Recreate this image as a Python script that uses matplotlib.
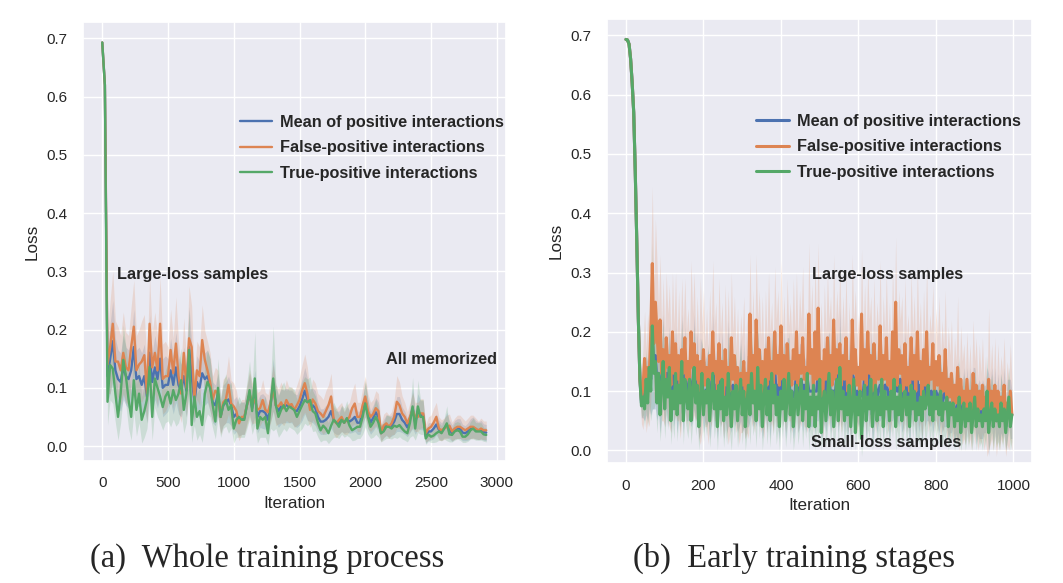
import numpy as np
import matplotlib
matplotlib.use('Agg')
import matplotlib.pyplot as plt
import seaborn as sns

# ---- panel (a): whole training process, one point every 20 iterations
iter_a = list(range(0, 2921, 20))

fp_a = [.693, .62, .14, .17, .21, .145, .145, .13, .16, .135,
        .13, .17, .205, .13, .14, .145, .156, .09, .21, .135,
        .16, .13, .21, .115, .12, .12, .165, .125, .176, .12,
        .09, .16, .10, .185, .17, .08, .13, .12, .182, .148,
        .13, .11, .08, .095, .09, .05, .075, .08, .105, .073,
        .068, .06, .039, .05, .05, .07, .09, .073, .08, .062,
        .065, .079, .062, .058, .075, .1, .07, .068, .075, .065,
        .079, .07, .072, .062, .07, .079, .095, .108, .09, .062,
        .08, .073, .06, .056, .05, .06, .07, .085, .045, .039,
        .045, .05, .04, .045, .05, .065, .073, .05, .05, .07,
        .085, .06, .05, .055, .065, .06, .022, .035, .039, .033,
        .039, .05, .076, .07, .056, .05, .039, .05, .062, .05,
        .05, .056, .056, .022, .03, .033, .04, .05, .03, .027,
        .03, .033, .035, .025, .03, .033, .033, .03, .027, .03,
        .033, .033, .03, .027, .03, .027, .027]

tp_a = [.693, .62, .076, .139, .133, .09, .05, .09, .148, .12,
        .08, .05, .113, .062, .09, .045, .06, .08, .136, .05,
        .116, .1, .085, .067, .085, .093, .073, .096, .079, .09,
        .113, .062, .09, .165, .036, .085, .05, .06, .036, .09,
        .11, .1, .07, .042, .1, .05, .07, .079, .062, .07,
        .03, .045, .05, .045, .045, .07, .096, .06, .116, .03,
        .05, .045, .05, .022, .07, .116, .07, .05, .062, .07,
        .06, .068, .065, .062, .05, .06, .07, .079, .075, .079,
        .06, .056, .04, .027, .035, .03, .022, .035, .045, .04,
        .033, .045, .04, .048, .035, .027, .03, .033, .033, .05,
        .073, .05, .033, .04, .05, .04, .022, .025, .033, .033,
        .03, .035, .033, .036, .03, .025, .022, .04, .068, .03,
        .068, .05, .05, .013, .02, .016, .018, .022, .025, .022,
        .03, .039, .02, .019, .025, .027, .025, .016, .016, .02,
        .027, .03, .025, .025, .025, .02, .019]

mean_a = [.693, .62, .12, .15, .18, .13, .115, .11, .135, .12,
          .115, .13, .17, .115, .12, .105, .12, .085, .16, .11,
          .135, .115, .15, .1, .105, .105, .13, .105, .135, .105,
          .095, .12, .095, .17, .12, .075, .11, .1, .125, .115,
          .12, .105, .075, .07, .09, .05, .07, .075, .08, .07,
          .05, .055, .045, .048, .048, .07, .09, .065, .09, .05,
          .06, .06, .057, .045, .072, .105, .07, .06, .068, .068,
          .07, .068, .068, .062, .06, .068, .08, .095, .08, .07,
          .07, .065, .05, .042, .042, .045, .05, .06, .045, .04,
          .04, .047, .04, .046, .042, .045, .05, .04, .04, .06,
          .08, .055, .04, .048, .058, .05, .022, .03, .036, .033,
          .035, .042, .055, .055, .045, .04, .032, .045, .065, .04,
          .06, .053, .053, .017, .025, .025, .03, .037, .028, .025,
          .03, .036, .028, .022, .028, .03, .03, .023, .022, .025,
          .03, .032, .028, .026, .028, .024, .023]

fp_a_sd = [0, .01, .05, .08, .09, .07, .06, .06, .07, .06,
           .06, .07, .08, .06, .06, .07, .07, .05, .08, .06,
           .07, .06, .08, .06, .06, .05, .07, .06, .08, .06,
           .05, .06, .05, .09, .07, .04, .05, .05, .06, .05,
           .05, .05, .04, .04, .04, .03, .04, .04, .05, .04,
           .04, .035, .03, .03, .03, .035, .04, .035, .04, .03,
           .03, .035, .03, .03, .035, .04, .035, .03, .035, .03,
           .035, .03, .03, .03, .035, .04, .045, .05, .045, .03,
           .035, .035, .03, .03, .03, .035, .035, .04, .025, .025,
           .025, .025, .02, .025, .025, .03, .035, .025, .025, .03,
           .035, .03, .025, .025, .03, .03, .015, .02, .02, .02,
           .02, .03, .045, .04, .03, .025, .02, .025, .03, .025,
           .025, .025, .025, .015, .02, .02, .025, .025, .02, .018,
           .018, .02, .02, .016, .018, .02, .02, .018, .016, .018,
           .02, .02, .018, .016, .018, .016, .016]

tp_a_sd = [0, .01, .04, .06, .06, .05, .04, .05, .06, .05,
           .05, .04, .055, .045, .05, .04, .045, .05, .06, .04,
           .05, .05, .045, .04, .045, .05, .04, .05, .045, .05,
           .055, .04, .05, .07, .03, .05, .04, .04, .03, .05,
           .055, .05, .04, .03, .05, .035, .04, .045, .04, .04,
           .025, .03, .035, .03, .03, .04, .05, .04, .08, .025,
           .035, .03, .035, .02, .04, .09, .04, .035, .04, .04,
           .035, .035, .035, .035, .03, .035, .04, .04, .04, .04,
           .035, .03, .025, .02, .025, .02, .018, .025, .03, .025,
           .02, .025, .025, .03, .02, .018, .02, .02, .02, .03,
           .04, .03, .02, .025, .03, .025, .015, .015, .02, .02,
           .018, .02, .02, .02, .018, .015, .015, .025, .05, .02,
           .045, .03, .03, .01, .012, .01, .012, .015, .015, .013,
           .018, .03, .013, .012, .015, .015, .015, .01, .01, .012,
           .015, .018, .015, .015, .015, .012, .012]

mean_a_sd = [0, .01, .045, .06, .07, .055, .05, .05, .055, .05,
             .05, .055, .065, .05, .05, .055, .055, .045, .065, .05,
             .055, .05, .065, .05, .05, .045, .055, .05, .06, .05,
             .045, .05, .045, .07, .055, .035, .045, .045, .05, .045,
             .045, .045, .035, .035, .035, .028, .035, .035, .04, .035,
             .03, .03, .028, .028, .028, .03, .035, .03, .04, .028,
             .028, .03, .028, .025, .03, .045, .03, .028, .03, .028,
             .03, .028, .028, .028, .028, .032, .036, .04, .036, .028,
             .03, .03, .025, .022, .022, .025, .025, .03, .022, .02,
             .02, .022, .018, .022, .02, .022, .025, .02, .02, .025,
             .03, .025, .02, .022, .025, .025, .013, .016, .018, .018,
             .018, .022, .03, .03, .022, .02, .016, .022, .035, .02,
             .03, .025, .025, .012, .015, .015, .017, .018, .016, .015,
             .016, .022, .016, .014, .016, .017, .017, .014, .013, .015,
             .017, .018, .016, .015, .016, .014, .014]

# ---- panel (b): early training stages, one point every 4 iterations
iter_b = list(range(0, 997, 4))

fp_b = [.693, .692, .685, .66, .62, .57, .47, .35, .22, .12,
        .085, .105, .155, .1, .14, .12, .2, .315, .18, .25,
        .2, .15, .22, .13, .17, .12, .19, .14, .16, .11,
        .2, .13, .18, .12, .16, .1, .17, .13, .19, .12,
        .15, .11, .2, .14, .18, .12, .16, .1, .15, .12,
        .17, .11, .14, .09, .16, .12, .2, .13, .15, .1,
        .18, .12, .15, .09, .17, .11, .14, .1, .19, .12,
        .16, .1, .14, .08, .13, .11, .15, .09, .13, .1,
        .23, .12, .16, .1, .22, .13, .17, .11, .15, .09,
        .17, .11, .19, .12, .15, .1, .2, .13, .16, .11,
        .21, .12, .16, .1, .18, .13, .15, .11, .17, .12,
        .2, .11, .16, .13, .19, .12, .14, .1, .23, .13,
        .17, .1, .2, .12, .24, .11, .15, .09, .17, .12,
        .19, .13, .16, .11, .22, .12, .17, .13, .18, .11,
        .16, .12, .19, .1, .15, .09, .22, .13, .17, .11,
        .14, .1, .23, .12, .17, .11, .2, .13, .16, .1,
        .18, .11, .15, .12, .21, .1, .16, .12, .19, .11,
        .15, .1, .2, .12, .25, .11, .17, .13, .16, .1,
        .18, .11, .14, .1, .19, .12, .16, .1, .2, .12,
        .15, .09, .17, .11, .2, .1, .14, .12, .18, .1,
        .15, .11, .16, .09, .13, .1, .17, .08, .12, .09,
        .13, .07, .11, .08, .14, .06, .12, .08, .1, .07,
        .12, .07, .1, .06, .13, .08, .11, .06, .1, .07,
        .11, .06, .09, .05, .12, .07, .1, .06, .11, .05,
        .1, .06, .09, .07, .11, .05, .08, .06, .1, .06]

tp_b = [.693, .692, .685, .66, .62, .57, .47, .35, .22, .12,
        .075, .09, .07, .12, .08, .14, .1, .21, .13, .15,
        .08, .13, .06, .11, .15, .07, .12, .09, .14, .05,
        .1, .07, .13, .06, .11, .08, .15, .05, .12, .09,
        .07, .12, .05, .1, .14, .08, .11, .04, .09, .13,
        .06, .1, .08, .12, .05, .09, .13, .07, .1, .04,
        .11, .07, .12, .05, .09, .06, .13, .08, .04, .1,
        .07, .11, .05, .09, .12, .06, .1, .04, .08, .11,
        .06, .13, .08, .1, .05, .14, .07, .11, .04, .09,
        .12, .06, .1, .05, .13, .08, .11, .06, .09, .04,
        .1, .07, .12, .05, .09, .13, .06, .1, .04, .08,
        .11, .06, .09, .12, .05, .1, .07, .13, .04, .09,
        .06, .11, .04, .09, .07, .12, .03, .08, .1, .05,
        .09, .13, .06, .1, .04, .08, .12, .05, .14, .07,
        .1, .05, .09, .06, .11, .04, .08, .12, .03, .09,
        .06, .1, .02, .08, .11, .05, .09, .07, .12, .04,
        .08, .11, .05, .09, .06, .12, .04, .1, .07, .09,
        .05, .1, .07, .12, .04, .09, .06, .11, .05, .08,
        .1, .06, .09, .04, .11, .07, .1, .05, .08, .06,
        .09, .05, .1, .07, .08, .11, .06, .09, .05, .1,
        .07, .09, .06, .1, .05, .08, .07, .09, .04, .08,
        .06, .08, .04, .07, .05, .09, .03, .06, .08, .04,
        .07, .05, .08, .03, .06, .09, .04, .07, .05, .06,
        .04, .07, .05, .1, .03, .06, .08, .04, .07, .05,
        .06, .04, .08, .05, .07, .03, .06, .09, .04, .06]

mean_b = [.693, .692, .685, .66, .62, .57, .47, .35, .22, .12,
          .08, .095, .09, .11, .1, .13, .12, .19, .14, .16,
          .11, .13, .09, .12, .15, .09, .13, .1, .14, .08,
          .13, .09, .14, .08, .12, .09, .15, .08, .14, .1,
          .1, .12, .1, .11, .15, .1, .13, .07, .11, .12,
          .09, .1, .1, .11, .08, .1, .15, .09, .11, .07,
          .13, .09, .13, .07, .11, .08, .13, .09, .09, .11,
          .1, .1, .08, .09, .12, .08, .11, .07, .1, .1,
          .12, .12, .1, .1, .1, .13, .1, .11, .08, .09,
          .13, .08, .13, .07, .13, .09, .14, .09, .11, .07,
          .14, .09, .13, .07, .12, .13, .09, .1, .09, .09,
          .14, .08, .11, .12, .1, .11, .09, .12, .1, .1,
          .1, .1, .1, .1, .13, .12, .07, .08, .12, .08,
          .12, .13, .09, .1, .1, .09, .13, .08, .15, .09,
          .12, .08, .12, .07, .12, .06, .13, .12, .08, .1,
          .09, .1, .1, .09, .13, .07, .13, .09, .13, .06,
          .11, .11, .09, .1, .11, .11, .08, .11, .11, .1,
          .08, .1, .11, .12, .11, .1, .1, .12, .09, .09,
          .13, .08, .11, .06, .13, .09, .12, .07, .12, .08,
          .11, .06, .12, .09, .12, .1, .09, .1, .09, .1,
          .1, .09, .09, .1, .08, .09, .1, .09, .07, .08,
          .08, .08, .06, .07, .08, .08, .06, .07, .09, .05,
          .09, .06, .09, .05, .09, .09, .06, .07, .07, .06,
          .07, .07, .07, .09, .06, .07, .09, .05, .09, .05,
          .08, .05, .08, .06, .09, .04, .07, .08, .07, .06]

fp_b_sd = [0, 0, 0, .005, .01, .01, .015, .02, .02, .03,
           .04, .07, .08, .07, .09, .08, .12, .13, .1, .14,
           .12, .09, .11, .08, .12, .08, .11, .09, .12, .08,
           .1, .08, .12, .07, .11, .08, .12, .08, .1, .08,
           .09, .08, .12, .09, .12, .07, .1, .08, .14, .09,
           .1, .07, .1, .08, .11, .08, .12, .08, .1, .07,
           .11, .08, .1, .07, .11, .08, .13, .07, .11, .08,
           .1, .07, .1, .07, .1, .08, .11, .07, .1, .08,
           .1, .08, .11, .07, .11, .09, .1, .08, .11, .07,
           .1, .08, .11, .08, .1, .07, .11, .09, .11, .08,
           .11, .08, .1, .07, .11, .08, .1, .08, .12, .08,
           .1, .08, .11, .09, .12, .08, .1, .07, .12, .09,
           .11, .07, .12, .08, .11, .08, .1, .07, .11, .08,
           .11, .09, .1, .08, .11, .08, .1, .09, .13, .08,
           .1, .08, .11, .07, .1, .07, .11, .09, .1, .08,
           .09, .07, .11, .08, .11, .08, .11, .09, .1, .07,
           .11, .08, .1, .08, .11, .07, .1, .08, .11, .08,
           .1, .07, .11, .08, .11, .08, .1, .09, .1, .07,
           .11, .08, .09, .07, .11, .08, .1, .07, .11, .08,
           .1, .07, .1, .08, .11, .07, .09, .08, .1, .07,
           .09, .08, .1, .07, .09, .07, .1, .07, .09, .07,
           .09, .06, .08, .07, .12, .06, .09, .07, .08, .06,
           .08, .06, .08, .06, .09, .07, .08, .06, .08, .06,
           .08, .06, .07, .06, .12, .06, .08, .06, .08, .06,
           .08, .06, .07, .06, .08, .06, .07, .06, .08, .06]

tp_b_sd = [0, 0, 0, .005, .01, .01, .015, .02, .02, .02,
           .02, .03, .03, .05, .04, .06, .05, .14, .06, .07,
           .05, .06, .045, .06, .07, .05, .06, .055, .06, .04,
           .055, .05, .06, .045, .055, .05, .07, .04, .06, .055,
           .05, .06, .04, .055, .07, .055, .06, .04, .055, .06,
           .045, .055, .055, .06, .045, .055, .07, .05, .055, .04,
           .06, .05, .06, .045, .055, .05, .07, .055, .04, .055,
           .05, .06, .045, .055, .06, .05, .055, .04, .055, .06,
           .05, .07, .055, .055, .045, .07, .05, .06, .04, .055,
           .06, .05, .055, .045, .07, .055, .06, .05, .055, .04,
           .055, .05, .06, .045, .055, .07, .05, .055, .04, .055,
           .06, .05, .055, .06, .045, .055, .05, .07, .04, .055,
           .05, .06, .04, .055, .05, .06, .03, .055, .055, .045,
           .055, .07, .05, .055, .04, .055, .06, .045, .07, .05,
           .055, .045, .055, .05, .06, .04, .055, .06, .03, .055,
           .05, .055, .03, .055, .06, .045, .055, .05, .06, .04,
           .055, .06, .045, .055, .05, .06, .04, .055, .05, .055,
           .045, .055, .05, .06, .04, .055, .05, .06, .045, .055,
           .055, .05, .055, .04, .06, .05, .055, .045, .055, .05,
           .055, .045, .055, .05, .055, .06, .05, .055, .045, .055,
           .05, .055, .05, .055, .045, .055, .05, .055, .04, .055,
           .045, .05, .04, .045, .045, .07, .03, .045, .05, .04,
           .045, .045, .05, .03, .045, .05, .04, .045, .045, .045,
           .04, .045, .045, .06, .03, .045, .05, .04, .045, .045,
           .045, .04, .05, .045, .045, .03, .045, .05, .04, .045]

mean_b_sd = [0, 0, 0, .005, .01, .01, .015, .02, .02, .025,
             .025, .04, .04, .05, .05, .06, .06, .12, .07, .09,
             .06, .06, .06, .06, .08, .05, .06, .06, .07, .05,
             .06, .05, .07, .05, .06, .05, .08, .05, .07, .05,
             .05, .06, .06, .06, .08, .05, .07, .05, .08, .06,
             .06, .05, .06, .06, .06, .05, .08, .05, .06, .05,
             .07, .05, .07, .05, .06, .05, .09, .05, .06, .05,
             .06, .05, .05, .05, .07, .05, .07, .05, .06, .06,
             .07, .06, .06, .05, .06, .07, .06, .06, .06, .05,
             .07, .05, .07, .05, .07, .05, .07, .05, .07, .05,
             .07, .05, .07, .05, .07, .06, .06, .05, .07, .05,
             .07, .05, .07, .06, .07, .05, .06, .06, .07, .06,
             .06, .05, .07, .05, .08, .06, .05, .05, .07, .05,
             .07, .07, .06, .05, .06, .05, .07, .05, .09, .05,
             .06, .05, .07, .05, .07, .05, .07, .06, .05, .05,
             .05, .05, .06, .05, .07, .05, .07, .05, .07, .05,
             .07, .06, .06, .05, .06, .05, .06, .05, .07, .05,
             .06, .05, .06, .06, .07, .05, .06, .06, .06, .05,
             .07, .05, .06, .05, .07, .05, .06, .05, .07, .05,
             .06, .05, .06, .05, .07, .05, .05, .05, .06, .05,
             .05, .05, .06, .05, .05, .05, .06, .05, .05, .05,
             .05, .04, .05, .04, .07, .05, .05, .04, .05, .04,
             .05, .04, .05, .04, .05, .05, .05, .04, .05, .04,
             .05, .04, .04, .05, .07, .04, .05, .04, .05, .04,
             .05, .04, .05, .04, .05, .04, .05, .04, .05, .04]

labels = ['Mean of positive interactions', 'False-positive interactions',
          'True-positive interactions']
colors = ['#4C72B0', '#DD8452', '#55A868']

sns.set_theme(style='darkgrid')
plt.rcParams['font.family'] = ['Liberation Sans', 'DejaVu Sans']

fig = plt.figure(figsize=(10.63, 5.83), dpi=100)
ax_a = fig.add_axes([0.078, 0.209, 0.398, 0.753])
ax_b = fig.add_axes([0.571, 0.205, 0.3995, 0.762])


def draw(ax, x, series, sds, lw):
    x = np.array(x)
    for ys, sd, c, lab in zip(series, sds, colors, labels):
        ys = np.array(ys)
        sd = np.array(sd)
        ax.plot(x, ys, color=c, lw=lw, label=lab)
        ax.fill_between(x, ys - sd, ys + sd, color=c, alpha=0.2, lw=0)


draw(ax_a, iter_a, [mean_a, fp_a, tp_a], [mean_a_sd, fp_a_sd, tp_a_sd], 1.7)
draw(ax_b, iter_b, [mean_b, fp_b, tp_b], [mean_b_sd, fp_b_sd, tp_b_sd], 2.2)

ax_a.set_xlim(-147, 3070)
ax_a.set_ylim(-0.026, 0.728)
ax_a.set_xticks(range(0, 3001, 500))
ax_b.set_xlim(-49, 1047)
ax_b.set_ylim(-0.022, 0.727)
ax_b.set_xticks(range(0, 1001, 200))

for ax, lx, ly in [(ax_a, 0.371, 0.714), (ax_b, 0.352, 0.713)]:
    ax.set_yticks(np.arange(0, 0.71, 0.1))
    ax.set_yticklabels(['%.1f' % v for v in np.arange(0, 0.71, 0.1)])
    ax.tick_params(labelsize=11, pad=5)
    ax.set_xlabel('Iteration', fontsize=12.3, labelpad=4)
    ax.set_ylabel('Loss', fontsize=12.3, labelpad=5)
    leg = ax.legend(loc='center left', bbox_to_anchor=(lx, ly), frameon=False,
                    prop={'weight': 'bold', 'size': 11.7}, borderaxespad=0,
                    borderpad=0, handlelength=2.0, handletextpad=0.5,
                    labelspacing=0.64)

bold = dict(fontsize=11.7, fontweight='bold', va='center', ha='left')
ax_a.text(112, 0.294, 'Large-loss samples', **bold)
ax_a.text(2161, 0.148, 'All memorized', **bold)
ax_b.text(480, 0.297, 'Large-loss samples', **bold)
ax_b.text(478, 0.0135, 'Small-loss samples', **bold)

cap = dict(fontsize=23.5, family='Liberation Serif', ha='center', va='center')
fig.text(0.2516, 0.042, '(a)  Whole training process', **cap)
fig.text(0.7474, 0.042, '(b)  Early training stages', **cap)

fig.savefig('out.png', dpi=100)
